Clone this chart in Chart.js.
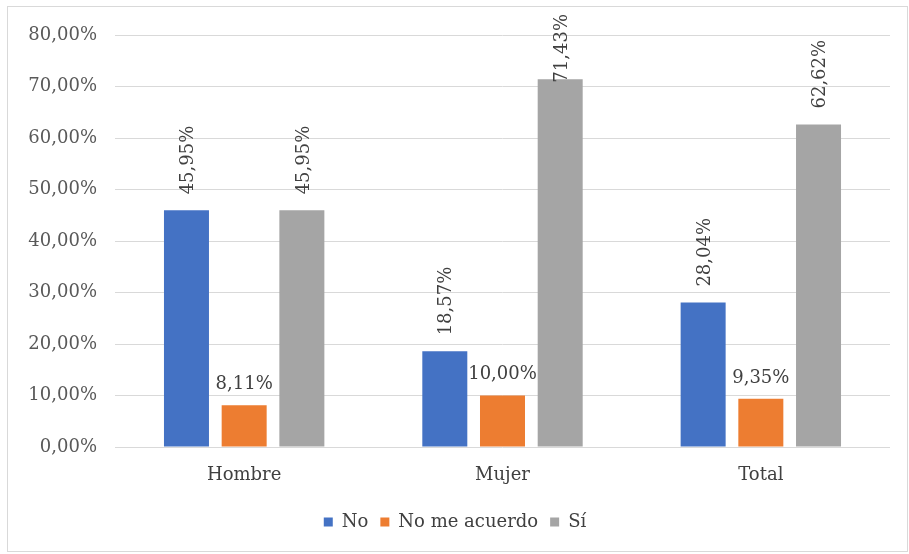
<!DOCTYPE html>
<html>
<head>
<meta charset="utf-8">
<style>
  html, body { margin: 0; padding: 0; background: #ffffff; }
  #wrap { width: 909px; height: 554px; }
</style>
<script src="https://cdn.jsdelivr.net/npm/chart.js@4.4.1/dist/chart.umd.min.js"></script>
</head>
<body>
<div id="wrap"><canvas id="chart" width="909" height="554"></canvas></div>
<script>
// Categories and series (percentages)
const categories = ['Hombre', 'Mujer', 'Total'];
const seriesNames = ['No', 'No me acuerdo', 'Sí'];
const noValues = [45.95, 18.57, 28.04];
const noRecuerdaValues = [8.11, 10.00, 9.35];
const siValues = [45.95, 71.43, 62.62];
const yTicks = [0, 10, 20, 30, 40, 50, 60, 70, 80];

const FONT = "'DejaVu Serif', 'Liberation Serif', serif";
const fmt = v => v.toFixed(2).replace('.', ',') + '%';

// Draws the value labels; blue and grey series are written vertically
const valueLabels = {
  id: 'valueLabels',
  afterDatasetsDraw(chart, args, opts) {
    const ctx = chart.ctx;
    const top = chart.chartArea.top;
    ctx.save();
    ctx.font = '18px ' + FONT;
    ctx.fillStyle = '#404040';
    chart.data.datasets.forEach((ds, di) => {
      const meta = chart.getDatasetMeta(di);
      const vertical = opts.vertical.includes(di);
      meta.data.forEach((bar, i) => {
        const text = fmt(ds.data[i]);
        const w = ctx.measureText(text).width;
        if (vertical) {
          let start = bar.y - 16;
          const minStart = top - 21 + w;
          if (start < minStart) start = minStart;
          ctx.save();
          ctx.translate(bar.x + 2, start);
          ctx.rotate(-Math.PI / 2);
          ctx.textAlign = 'left';
          ctx.textBaseline = 'middle';
          ctx.fillText(text, 0, 0);
          ctx.restore();
        } else {
          ctx.textAlign = 'center';
          ctx.textBaseline = 'middle';
          ctx.fillText(text, bar.x, bar.y - 21);
        }
      });
    });
    ctx.restore();
  }
};

// Light frame round the whole chart
const frame = {
  id: 'frame',
  beforeDraw(chart) {
    const ctx = chart.ctx;
    ctx.save();
    ctx.strokeStyle = '#d9d9d9';
    ctx.lineWidth = 1;
    ctx.strokeRect(7.5, 6.5, 900, 545);
    ctx.restore();
  }
};

new Chart(document.getElementById('chart'), {
  type: 'bar',
  data: {
    labels: categories,
    datasets: [
      { label: seriesNames[0], data: noValues, backgroundColor: '#4472C4' },
      { label: seriesNames[1], data: noRecuerdaValues, backgroundColor: '#ED7D31' },
      { label: seriesNames[2], data: siValues, backgroundColor: '#A5A5A5' }
    ]
  },
  options: {
    responsive: false,
    devicePixelRatio: 1,
    animation: false,
    datasets: { bar: { categoryPercentage: 0.67, barPercentage: 0.78 } },
    layout: { padding: { top: 35, left: 20, right: 19, bottom: 13 } },
    scales: {
      x: {
        grid: { display: false, drawTicks: false },
        border: { display: false },
        ticks: { color: '#404040', font: { family: FONT, size: 18 }, padding: 18 },
        afterFit(scale) { scale.height = 54; }
      },
      y: {
        min: 0,
        max: 80,
        afterBuildTicks(scale) { scale.ticks = yTicks.map(v => ({ value: v })); },
        grid: { color: '#d9d9d9', lineWidth: 1, drawTicks: false },
        border: { display: false },
        ticks: {
          color: '#595959',
          font: { family: FONT, size: 18 },
          padding: 18,
          callback: v => fmt(v)
        },
        afterFit(scale) { scale.width = 95; }
      }
    },
    plugins: {
      legend: {
        position: 'bottom',
        labels: {
          boxWidth: 9,
          boxHeight: 9,
          padding: 12,
          color: '#404040',
          font: { family: FONT, size: 18 }
        }
      },
      tooltip: { enabled: false },
      valueLabels: { vertical: [0, 2] }
    }
  },
  plugins: [frame, valueLabels]
});
</script>
</body>
</html>
